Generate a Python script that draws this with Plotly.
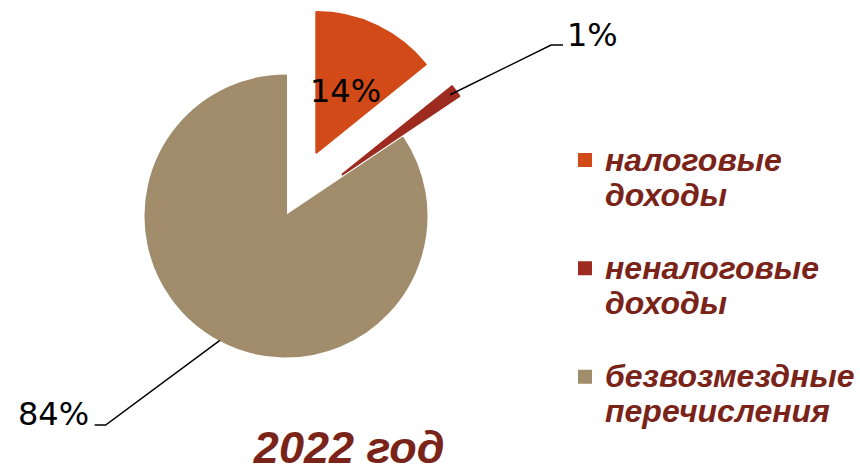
import math
import plotly.graph_objects as go

# ---- data ----
categories = ["налоговые<br>доходы", "неналоговые<br>доходы", "безвозмездные<br>перечисления"]
values = [14.2, 1.4, 84.4]
pulls = [0.5, 0.5, 0.0]
colors = ["#D24A18", "#9E2B20", "#A18C6B"]
year_title = "2022 год"

# ---- layout constants (pixels) ----
W, H = 860, 471
CX, CY, R = 287.0, 216.0, 141.0
TEXT_COLOR = "#7A2419"
LEG_FONT = "Liberation Sans, Arial, sans-serif"
LBL_FONT = "DejaVu Sans, Verdana, sans-serif"
LBL_SIZE = 32
LEG_ITEM_SIZE = 32

def px(x):
    return x / W

def py(y):
    return 1 - y / H

# pie domain so that r = min(w,h)/2/(1+maxPull) = R and centre = (CX, CY)
box = 2 * R * (1 + max(pulls))
dom_x = [px(CX - box / 2), px(CX + box / 2)]
dom_y = [py(CY + box / 2), py(CY - box / 2)]

span = f"<span style='font-size:{LEG_ITEM_SIZE}px'>"
legend_labels = [span + c.replace("<br>", "</span><br>" + span) + "</span><br> " for c in categories]

fig = go.Figure(go.Pie(
    labels=legend_labels,
    values=values,
    pull=pulls,
    sort=False,
    direction="clockwise",
    rotation=0,
    textinfo="none",
    marker=dict(colors=colors, line=dict(width=2, color=colors)),
    domain=dict(x=dom_x, y=dom_y),
    hoverinfo="label+percent",
))

# geometry for labels derived from values
total = sum(values)
cum = 0.0
mids = []
for v in values:
    a0 = cum / total * 360
    cum += v
    a1 = cum / total * 360
    mids.append(math.radians((a0 + a1) / 2))

def point(theta, dist, pull=0.0):
    ox = CX + pull * R * math.sin(theta)
    oy = CY - pull * R * math.cos(theta)
    return ox + dist * math.sin(theta), oy - dist * math.cos(theta)

pct = [f"{round(v / total * 100)}%" for v in values]

annotations = []
shapes = []

# 14% inside label
lx, ly = point(mids[0], 0.48 * R, pulls[0])
annotations.append(dict(x=px(lx), y=py(ly), xref="paper", yref="paper", text=pct[0],
                        showarrow=False, font=dict(family=LBL_FONT, size=LBL_SIZE, color="black"),
                        xanchor="center", yanchor="middle"))

# 1% outside label with leader line
sx, sy = point(mids[1], R * 0.95, pulls[1])
elbow1 = (553, 45)
end1 = (565, 45)
shapes.append(dict(type="path", xref="paper", yref="paper",
                   path=f"M {px(sx)},{py(sy)} L {px(elbow1[0])},{py(elbow1[1])} L {px(end1[0])},{py(end1[1])}",
                   line=dict(color="black", width=1.5)))
annotations.append(dict(x=px(567), y=py(35), xref="paper", yref="paper", text=pct[1],
                        showarrow=False, font=dict(family=LBL_FONT, size=LBL_SIZE, color="black"),
                        xanchor="left", yanchor="middle"))

# 84% outside label with leader line
sx, sy = point(mids[2], R, pulls[2])
elbow2 = (106, 425)
end2 = (95, 425)
shapes.append(dict(type="path", xref="paper", yref="paper",
                   path=f"M {px(sx)},{py(sy)} L {px(elbow2[0])},{py(elbow2[1])} L {px(end2[0])},{py(end2[1])}",
                   line=dict(color="black", width=1.5)))
annotations.append(dict(x=px(91), y=py(414), xref="paper", yref="paper", text=pct[2],
                        showarrow=False, font=dict(family=LBL_FONT, size=LBL_SIZE, color="black"),
                        xanchor="right", yanchor="middle"))

fig.update_layout(
    width=W, height=H,
    margin=dict(l=0, r=0, t=0, b=0),
    paper_bgcolor="white",
    plot_bgcolor="white",
    showlegend=True,
    legend=dict(
        x=px(567), y=py(136), xanchor="left", yanchor="top",
        font=dict(family=LEG_FONT, size=27, color=TEXT_COLOR, weight="bold", style="italic"),
        valign="top", bgcolor="rgba(0,0,0,0)", borderwidth=0,
    ),
    title=dict(
        text=year_title, x=px(350.5), xanchor="center", xref="paper",
        y=py(447), yanchor="middle", yref="container",
        font=dict(family=LEG_FONT, size=45, color=TEXT_COLOR, weight="bold", style="italic"),
    ),
    annotations=annotations,
    shapes=shapes,
)

# remove the browser's default 8px body margin so the figure sits at the window origin
fig.write_html("out.html", config={"displayModeBar": False},
               post_script="document.body.style.margin='0';")
